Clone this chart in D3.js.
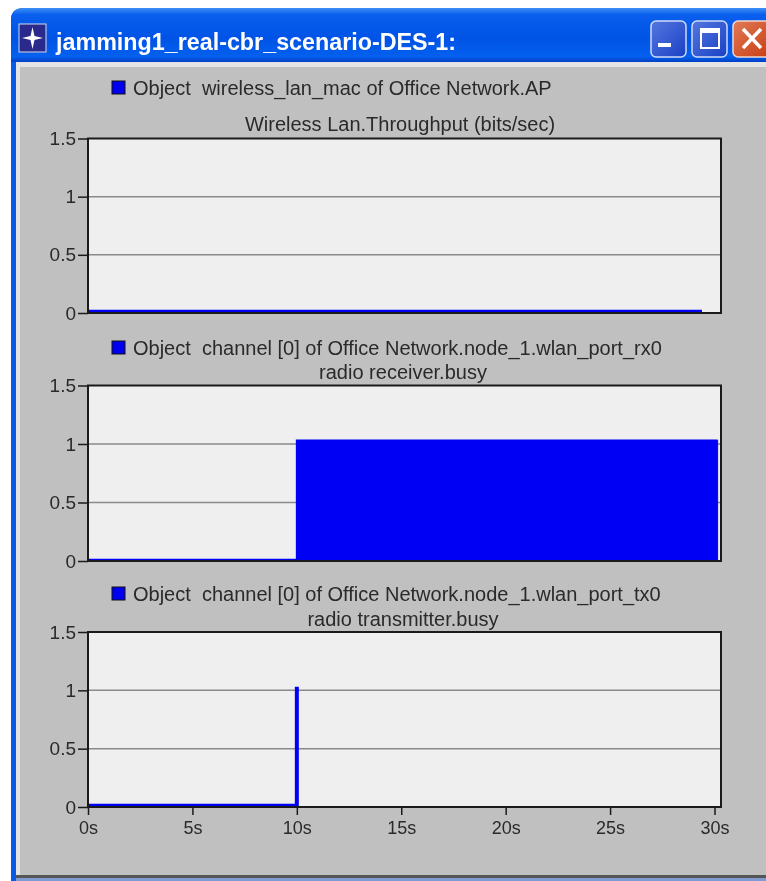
<!DOCTYPE html>
<html>
<head>
<meta charset="utf-8">
<script src="https://cdn.jsdelivr.net/npm/d3@7"></script>
<style>
html, body { margin: 0; padding: 0; background: #fff; overflow: hidden; }
svg { display: block; filter: blur(0.6px); }
text { font-family: "Liberation Sans", Arial, sans-serif; fill: #2a2a2a; }
</style>
</head>
<body>
<div id="chart"></div>
<script>
var windowTitle = "jamming1_real-cbr_scenario-DES-1:";
var legendLabels = [
	"Object  wireless_lan_mac of Office Network.AP",
	"Object  channel [0] of Office Network.node_1.wlan_port_rx0",
	"Object  channel [0] of Office Network.node_1.wlan_port_tx0"
];
var panelTitles = [
	"Wireless Lan.Throughput (bits/sec)",
	"radio receiver.busy",
	"radio transmitter.busy"
];
var yTicks = [0, 0.5, 1, 1.5];
var xTicks = [0, 5, 10, 15, 20, 25, 30];

// seconds, value for each statistic
var throughputTime = [0, 29.4];
var throughputValue = [0.01, 0.01];
var receiverTime = [0, 10, 10, 30.15];
var receiverValue = [0.01, 0.01, 1.03, 1.03];
var transmitterTime = [0, 10, 10];
var transmitterValue = [0.01, 0.01, 1.03];

var width = 766;
var height = 881;

var svg = d3.select("#chart").append("svg")
	.attr("width", width)
	.attr("height", height);

var defs = svg.append("defs");
var titleGrad = defs.append("linearGradient")
	.attr("id", "titleGrad").attr("x1", 0).attr("y1", 0).attr("x2", 0).attr("y2", 1);
titleGrad.append("stop").attr("offset", "0").attr("stop-color", "#3f8ff5");
titleGrad.append("stop").attr("offset", "0.12").attr("stop-color", "#0a5fee");
titleGrad.append("stop").attr("offset", "0.55").attr("stop-color", "#0053e6");
titleGrad.append("stop").attr("offset", "0.9").attr("stop-color", "#0460ee");
titleGrad.append("stop").attr("offset", "1").attr("stop-color", "#0040c4");

var btnGrad = defs.append("linearGradient")
	.attr("id", "btnGrad").attr("x1", 0).attr("y1", 0).attr("x2", 1).attr("y2", 1);
btnGrad.append("stop").attr("offset", "0").attr("stop-color", "#5577e0");
btnGrad.append("stop").attr("offset", "1").attr("stop-color", "#1a40c4");

var closeGrad = defs.append("linearGradient")
	.attr("id", "closeGrad").attr("x1", 0).attr("y1", 0).attr("x2", 1).attr("y2", 1);
closeGrad.append("stop").attr("offset", "0").attr("stop-color", "#e07a58");
closeGrad.append("stop").attr("offset", "1").attr("stop-color", "#c93c10");

// window frame
svg.append("path")
	.attr("d", "M11,881V20Q11,8 24,8H766V881Z")
	.attr("fill", "#0a5ae8");
svg.append("rect").attr("x", 16).attr("y", 62).attr("width", 750).attr("height", 813).attr("fill", "#e4e4e4");
svg.append("rect").attr("x", 20).attr("y", 67).attr("width", 746).attr("height", 808).attr("fill", "#c0c0c0");
svg.append("path")
	.attr("d", "M11,62V20Q11,8 24,8H766V62Z")
	.attr("fill", "url(#titleGrad)");
svg.append("rect").attr("x", 16).attr("y", 875).attr("width", 750).attr("height", 3).attr("fill", "#555");
svg.append("rect").attr("x", 16).attr("y", 878).attr("width", 750).attr("height", 3).attr("fill", "#7f9ad0");

// title bar icon
var icon = svg.append("g").attr("transform", "translate(19,24)");
icon.append("rect").attr("width", 27).attr("height", 28).attr("fill", "#2a2a8c").attr("stroke", "#d8d8e8");
icon.append("path").attr("d", "M13.5,3L15.5,12L24,14L15.5,16L13.5,25L11.5,16L3,14L11.5,12Z").attr("fill", "#fff");

svg.append("text")
	.attr("x", 56)
	.attr("y", 50)
	.attr("font-size", 23.3)
	.attr("font-weight", "bold")
	.style("fill", "#fff")
	.text(windowTitle);

// title bar buttons
svg.append("rect").attr("x", 651).attr("y", 21).attr("width", 35).attr("height", 36).attr("rx", 5)
	.attr("fill", "url(#btnGrad)").attr("stroke", "#cfdaf8").attr("stroke-width", 1.5);
svg.append("rect").attr("x", 658).attr("y", 43).attr("width", 13).attr("height", 4).attr("fill", "#fff");
svg.append("rect").attr("x", 692).attr("y", 21).attr("width", 35).attr("height", 36).attr("rx", 5)
	.attr("fill", "url(#btnGrad)").attr("stroke", "#cfdaf8").attr("stroke-width", 1.5);
svg.append("rect").attr("x", 701).attr("y", 29).attr("width", 18).attr("height", 19)
	.attr("fill", "none").attr("stroke", "#fff").attr("stroke-width", 2);
svg.append("rect").attr("x", 700).attr("y", 28).attr("width", 20).attr("height", 5).attr("fill", "#fff");
svg.append("rect").attr("x", 733).attr("y", 21).attr("width", 40).attr("height", 36).attr("rx", 5)
	.attr("fill", "url(#closeGrad)").attr("stroke", "#f0d8d0").attr("stroke-width", 1.5);
svg.append("path").attr("d", "M743,29L761,48M761,29L743,48")
	.attr("stroke", "#fff").attr("stroke-width", 3.5).attr("fill", "none");

var plotLeft = 88;
var plotRight = 721;

var x = d3.scaleLinear()
	.domain([0, 30])
	.range([plotLeft, 714.5]);

// top and bottom of each plot box, and text baselines above it
var panels = [
	{ top: 138.5, bottom: 313, legendY: 95, titleY: 131, titleX: 400, time: throughputTime, value: throughputValue, kind: "line" },
	{ top: 385.5, bottom: 561, legendY: 355, titleY: 379, titleX: 403, time: receiverTime, value: receiverValue, kind: "area" },
	{ top: 632, bottom: 807, legendY: 601, titleY: 626, titleX: 403, time: transmitterTime, value: transmitterValue, kind: "line" }
];

panels.forEach(function(p, i) {
	var y = d3.scaleLinear().domain([0, 1.5]).range([p.bottom, p.top]);
	var g = svg.append("g");

	// legend
	g.append("rect")
		.attr("x", 112).attr("y", p.legendY - 14).attr("width", 13).attr("height", 13)
		.attr("fill", "#0000f0").attr("stroke", "#111").attr("stroke-width", 1);
	g.append("text")
		.attr("class", "legend")
		.attr("x", 133)
		.attr("y", p.legendY)
		.attr("font-size", 20)
		.style("white-space", "pre")
		.text(legendLabels[i]);
	g.append("text")
		.attr("x", p.titleX)
		.attr("y", p.titleY)
		.attr("font-size", 20)
		.attr("text-anchor", "middle")
		.text(panelTitles[i]);

	// plot background
	g.append("rect")
		.attr("x", plotLeft).attr("y", p.top)
		.attr("width", plotRight - plotLeft).attr("height", p.bottom - p.top)
		.attr("fill", "#efefef");

	// grid
	g.selectAll(".grid").data([0.5, 1]).enter().append("line")
		.attr("x1", plotLeft).attr("x2", plotRight)
		.attr("y1", function(d) { return y(d); })
		.attr("y2", function(d) { return y(d); })
		.attr("stroke", "#8a8a8a")
		.attr("stroke-width", 1.5);

	// series
	var points = p.time.map(function(t, k) { return [t, p.value[k]]; });
	if (p.kind == "area") {
		g.append("path")
			.attr("d", d3.area()
				.x(function(d) { return x(d[0]); })
				.y0(y(0))
				.y1(function(d) { return y(d[1]); })(points))
			.attr("fill", "#0000f5")
			.attr("stroke", "#0000f5");
	}
	g.append("path")
		.attr("d", d3.line()
			.x(function(d) { return x(d[0]); })
			.y(function(d) { return y(d[1]); })(points))
		.attr("fill", "none")
		.attr("stroke", "#0000f5")
		.attr("stroke-width", p.kind == "line" ? 4 : 2);

	// plot border
	g.append("rect")
		.attr("x", plotLeft).attr("y", p.top)
		.attr("width", plotRight - plotLeft).attr("height", p.bottom - p.top)
		.attr("fill", "none")
		.attr("stroke", "#1a1a1a")
		.attr("stroke-width", 2);

	// y axis
	var yAxis = g.append("g")
		.attr("transform", "translate(" + plotLeft + ",0)")
		.call(d3.axisLeft(y).tickValues(yTicks).tickSize(10).tickPadding(2).tickFormat(function(d) { return d; }));
	yAxis.select(".domain").remove();
	yAxis.selectAll("line").attr("stroke", "#1a1a1a").attr("stroke-width", 1.5);
	yAxis.selectAll("text").attr("font-size", 19).attr("font-family", null).attr("fill", null);

	// x axis only on the last panel
	if (i == panels.length - 1) {
		var xAxis = g.append("g")
			.attr("transform", "translate(0," + p.bottom + ")")
			.call(d3.axisBottom(x).tickValues(xTicks).tickSize(8).tickPadding(6).tickFormat(function(d) { return d + "s"; }));
		xAxis.select(".domain").remove();
		xAxis.selectAll("line").attr("stroke", "#1a1a1a").attr("stroke-width", 1.5);
		xAxis.selectAll("text").attr("font-size", 18).attr("font-family", null).attr("fill", null);
	}
});
</script>
</body>
</html>
